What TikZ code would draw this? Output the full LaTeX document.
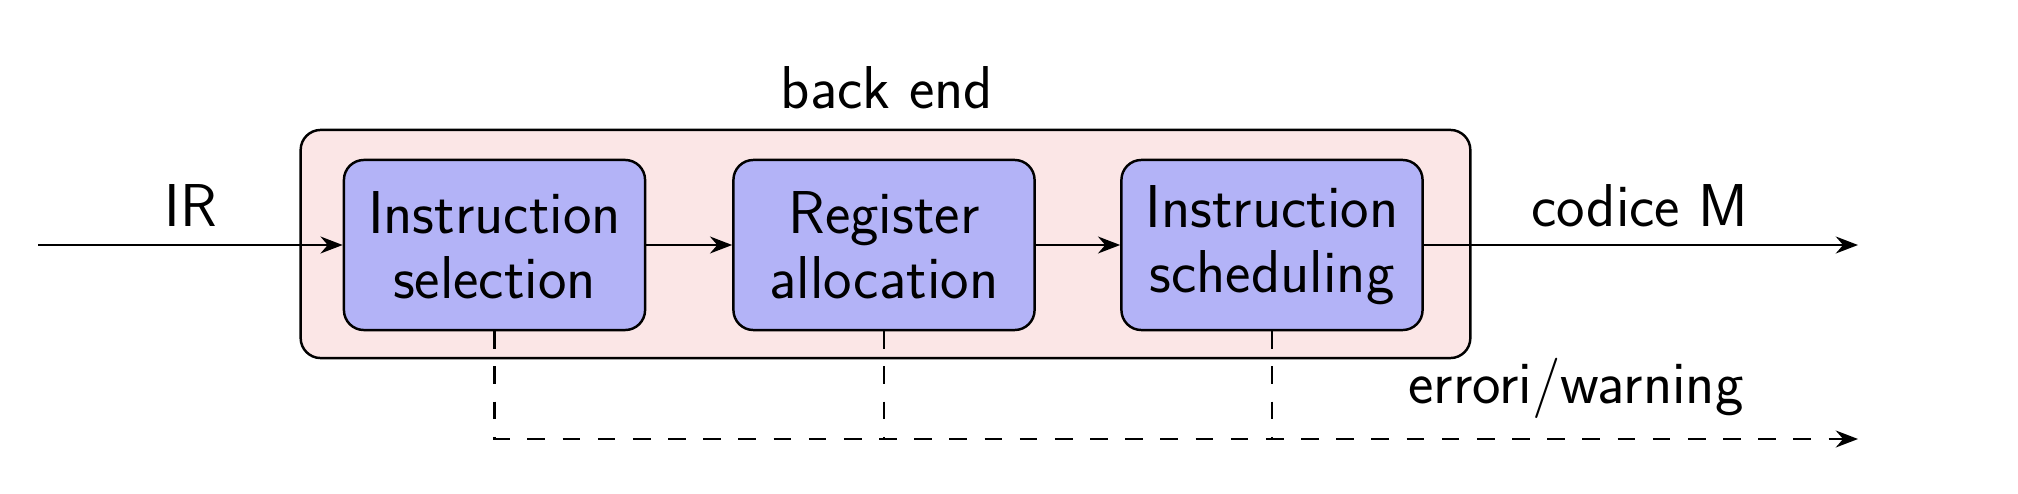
\documentclass[tikz,border=0pt]{standalone}
\usepackage{fontspec}
\usetikzlibrary{arrows.meta}
\definecolor{outerfill}{RGB}{251,230,230}
\definecolor{boxfill}{RGB}{179,179,247}
\begin{document}
\begin{tikzpicture}[x=0.01cm,y=-0.01cm,
  every node/.style={font=\sffamily\fontsize{17.2}{18.5}\selectfont},
  lw/.style={line width=0.7pt},
  stagebox/.style={lw, draw=black, fill=boxfill, rounded corners=0.2cm,
    minimum width=3.01cm, minimum height=1.7cm, align=center, inner sep=0pt},
  outerbox/.style={lw, draw=black, fill=outerfill, rounded corners=0.2cm,
    minimum width=11.69cm, minimum height=2.28cm, inner sep=0pt},
  arr/.style={lw, -{Stealth[length=6.3pt,width=4.8pt]}},
  dsh/.style={dash pattern=on 5pt off 5pt}]
\useasboundingbox (0,0) rectangle (2018,494);
\node[outerbox] (outer) at (885.5,244) {};
\node[anchor=base] (lbl) at (887,108) {back end};
\node[stagebox] (b1) at (494.5,245) {Instruction\\selection};
\node[stagebox] (b2) at (884,245) {Register\\allocation};
\node[stagebox] (b3) at (1272,245) {Instruction\\scheduling};
\coordinate (irin) at (38,245);
\coordinate (mout) at (1858,245);
\coordinate (errend) at (1858,439);
\node[anchor=base] (irl) at (191,226) {IR};
\node[anchor=base] (codl) at (1640,226) {codice M};
\node[anchor=base] (errl) at (1576,403) {errori/warning};
\draw[arr] (irin) -- (b1);
\draw[arr] (b1) -- (b2);
\draw[arr] (b2) -- (b3);
\draw[arr] (b3) -- (mout);
\draw[arr,dsh] (b1.south) |- (errend);
\draw[lw,dsh] (b2.south) -- (b2.south |- errend);
\draw[lw,dsh] (b3.south) -- (b3.south |- errend);
\end{tikzpicture}
\end{document}
